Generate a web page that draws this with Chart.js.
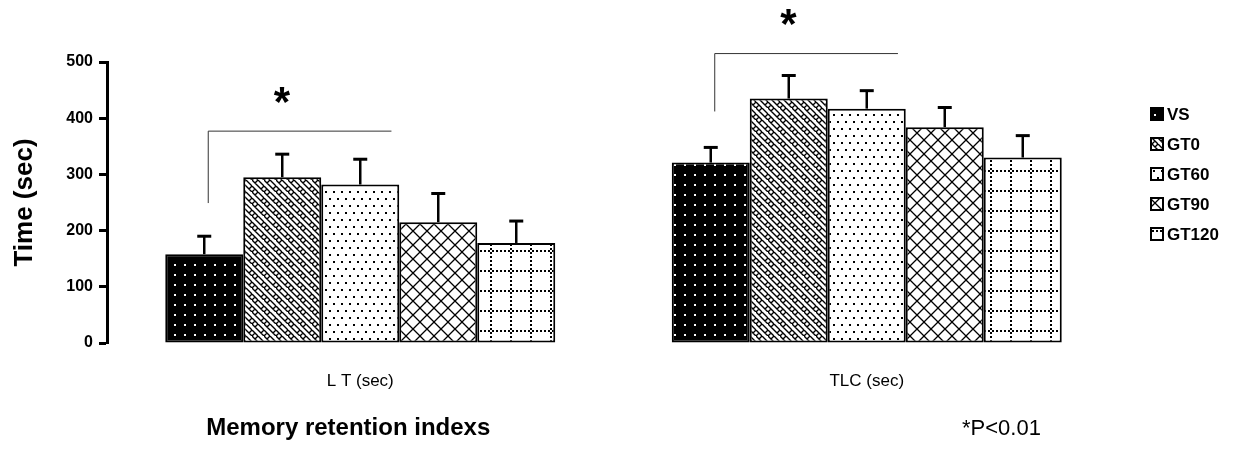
<!DOCTYPE html>
<html>
<head>
<meta charset="utf-8">
<script src="https://cdn.jsdelivr.net/npm/chart.js@4.4.1/dist/chart.umd.min.js"></script>
<style>
  html, body { margin: 0; padding: 0; background: #fff; }
</style>
</head>
<body>
<canvas id="chart" width="1243" height="453"></canvas>
<script>
// Data ---------------------------------------------------------------------
const categories = ['L T (sec)', 'TLC (sec)'];
const groupNames = ['VS', 'GT0', 'GT60', 'GT90', 'GT120'];

const vsValues    = [158, 321];
const gt0Values   = [295, 435];
const gt60Values  = [282, 417];
const gt90Values  = [215, 384];
const gt120Values = [178, 330];

const vsErrors    = [32, 27];
const gt0Errors   = [41, 41];
const gt60Errors  = [45, 32];
const gt90Errors  = [51, 35];
const gt120Errors = [39, 39];

// significance brackets: horizontal level and where the left leg ends
const bracketLevels = [377, 515];
const bracketDrops  = [249, 412];

const yTicks = [0, 100, 200, 300, 400, 500];

const FONT = "'Liberation Sans', Arial, sans-serif";

// Fill patterns ------------------------------------------------------------
function makeTile(w, h, draw) {
	const c = document.createElement('canvas');
	c.width = w; c.height = h;
	const g = c.getContext('2d');
	draw(g, w, h);
	return g.createPattern(c, 'repeat');
}

const patterns = [
	// VS: black with white dots
	makeTile(10, 10, (g) => {
		g.fillStyle = '#000'; g.fillRect(0, 0, 10, 10);
		g.fillStyle = '#fff'; g.fillRect(4, 4, 2, 2);
	}),
	// GT0: woven zigzag
	makeTile(12, 12, (g) => {
		g.fillStyle = '#fff'; g.fillRect(0, 0, 12, 12);
		g.strokeStyle = '#000'; g.lineWidth = 1.4;
		g.beginPath();
		g.moveTo(0, 0); g.lineTo(12, 12);
		g.moveTo(6, 0); g.lineTo(12, 6);
		g.moveTo(0, 6); g.lineTo(6, 12);
		g.moveTo(3, 3); g.lineTo(6, 0);
		g.moveTo(9, 9); g.lineTo(12, 6);
		g.moveTo(0, 12); g.lineTo(3, 9);
		g.stroke();
	}),
	// GT60: fine staggered dots
	makeTile(8, 14, (g) => {
		g.fillStyle = '#fff'; g.fillRect(0, 0, 8, 14);
		g.fillStyle = '#000';
		g.fillRect(1, 2, 2, 2);
		g.fillRect(5, 9, 2, 2);
	}),
	// GT90: diagonal cross hatch
	makeTile(14, 14, (g) => {
		g.fillStyle = '#fff'; g.fillRect(0, 0, 14, 14);
		g.strokeStyle = '#000'; g.lineWidth = 1.3;
		g.beginPath();
		g.moveTo(0, 0); g.lineTo(14, 14);
		g.moveTo(14, 0); g.lineTo(0, 14);
		g.stroke();
	}),
	// GT120: dotted grid
	makeTile(20, 20, (g) => {
		g.fillStyle = '#fff'; g.fillRect(0, 0, 20, 20);
		g.fillStyle = '#000';
		for (let i = 0; i < 20; i += 4) {
			g.fillRect(i, 10, 2, 2);
			g.fillRect(10, i, 2, 2);
		}
	})
];

const seriesValues = [vsValues, gt0Values, gt60Values, gt90Values, gt120Values];
const seriesErrors = [vsErrors, gt0Errors, gt60Errors, gt90Errors, gt120Errors];

const datasets = groupNames.map((name, i) => ({
	label: name,
	data: seriesValues[i],
	errors: seriesErrors[i],
	backgroundColor: patterns[i],
	borderColor: '#000',
	borderWidth: 2,
	borderSkipped: false,
	categoryPercentage: 0.77,
	barPercentage: 1.0
}));

// Error bars, brackets and stars -----------------------------------------
const annotations = {
	id: 'annotations',
	afterDatasetsDraw(chart) {
		const ctx = chart.ctx;
		const y = chart.scales.y;
		ctx.save();
		ctx.strokeStyle = '#000';

		// upper error bars with caps
		chart.data.datasets.forEach((ds, di) => {
			const meta = chart.getDatasetMeta(di);
			meta.data.forEach((bar, j) => {
				const top = y.getPixelForValue(ds.data[j] + ds.errors[j]);
				ctx.lineWidth = 2.5;
				ctx.beginPath();
				ctx.moveTo(bar.x, bar.y);
				ctx.lineTo(bar.x, top);
				ctx.stroke();
				ctx.lineWidth = 3;
				ctx.beginPath();
				ctx.moveTo(bar.x - 7, top);
				ctx.lineTo(bar.x + 7, top);
				ctx.stroke();
			});
		});

		// significance brackets
		const vsMeta = chart.getDatasetMeta(0);
		const gt60Meta = chart.getDatasetMeta(2);
		categories.forEach((_, j) => {
			const x0 = vsMeta.data[j].x + 4;
			const x1 = gt60Meta.data[j].x + gt60Meta.data[j].width * 0.4;
			const yl = y.getPixelForValue(bracketLevels[j]);
			const yd = y.getPixelForValue(bracketDrops[j]);
			ctx.lineWidth = 1;
			ctx.strokeStyle = '#333';
			ctx.beginPath();
			ctx.moveTo(x0, yd);
			ctx.lineTo(x0, yl);
			ctx.lineTo(x1, yl);
			ctx.stroke();

			ctx.fillStyle = '#000';
			ctx.font = `bold 42px ${FONT}`;
			ctx.textAlign = 'center';
			ctx.textBaseline = 'middle';
			ctx.fillText('*', (x0 + x1) / 2 - 18, yl - 27);
		});
		ctx.restore();
	},
	afterDraw(chart) {
		const ctx = chart.ctx;
		const x = chart.scales.x;
		ctx.save();
		ctx.fillStyle = '#000';
		ctx.textBaseline = 'middle';

		// bottom captions
		ctx.textAlign = 'center';
		ctx.font = `bold 24px ${FONT}`;
		ctx.fillText('Memory retention indexs', x.getPixelForValue(0) - 12, 428);
		ctx.textAlign = 'left';
		ctx.font = `22px ${FONT}`;
		ctx.fillText('*P<0.01', 962, 429);

		// legend
		const lx = 1151;
		let ly = 114;
		chart.data.datasets.forEach((ds) => {
			ctx.fillStyle = ds.backgroundColor;
			ctx.fillRect(lx, ly - 6, 12, 12);
			ctx.strokeStyle = '#000';
			ctx.lineWidth = 2;
			ctx.strokeRect(lx, ly - 6, 12, 12);
			ctx.fillStyle = '#000';
			ctx.font = `bold 17px ${FONT}`;
			ctx.fillText(ds.label, lx + 16, ly + 1);
			ly += 30;
		});
		ctx.restore();
	}
};

new Chart(document.getElementById('chart'), {
	type: 'bar',
	data: { labels: categories, datasets },
	options: {
		responsive: false,
		animation: false,
		devicePixelRatio: 1,
		layout: { padding: { top: 62, right: 123, left: 0, bottom: 0 } },
		plugins: {
			legend: { display: false },
			tooltip: { enabled: false }
		},
		scales: {
			x: {
				afterFit: (s) => { s.height = 110; },
				grid: { display: false, drawTicks: false },
				border: { display: false },
				ticks: { font: { family: FONT, size: 17 }, color: '#000', padding: 28 }
			},
			y: {
				min: 0,
				max: 500,
				afterFit: (s) => { s.width = 107; },
				afterBuildTicks: (s) => { s.ticks = yTicks.map(v => ({ value: v })); },
				grid: { drawOnChartArea: false, drawTicks: true, tickLength: 8, tickColor: '#000', tickWidth: 3 },
				border: { display: true, color: '#000', width: 3 },
				ticks: { font: { family: FONT, size: 16, weight: 'bold' }, color: '#000', padding: 6 },
				title: {
					display: true,
					text: 'Time (sec)',
					color: '#000',
					font: { family: FONT, size: 26, weight: 'bold' },
					padding: { top: 9, bottom: 0 }
				}
			}
		}
	},
	plugins: [annotations]
});
</script>
</body>
</html>
